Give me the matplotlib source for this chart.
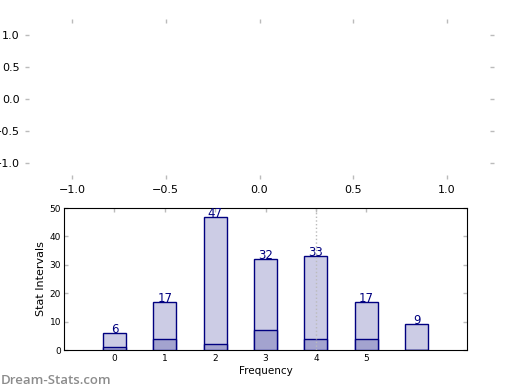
import matplotlib
matplotlib.use('Agg')
import matplotlib.pyplot as plt

# bar data
positions = [0, 1, 2, 3, 4, 5, 6]
totals = [6, 17, 47, 32, 33, 17, 9]
lower = [1, 4, 2, 7, 4, 4, 0]
xtick_labels = ['0', '1', '2', '3', '4', '5']
marker_x = 4

navy = '#000080'
tick_gray = '#bbbbbb'

fig = plt.figure(figsize=(5.2, 3.9), dpi=100)

# +-----------------------+
# | empty top placeholder |
# +-----------------------+
ax_top = fig.add_axes([25 / 520, 1 - 179 / 390, 469 / 520, 160 / 390])
ax_top.set_xlim(-1.25, 1.25)
ax_top.set_ylim(-1.25, 1.25)
ax_top.set_xticks([-1.0, -0.5, 0.0, 0.5, 1.0])
ax_top.set_yticks([-1.0, -0.5, 0.0, 0.5, 1.0])
for s in ax_top.spines.values():
    s.set_visible(False)
ax_top.tick_params(direction='in', top=True, right=True, length=3, width=1,
                   color=tick_gray, labelsize=8, pad=4)

# +-----------+
# | bar chart |
# +-----------+
ax = fig.add_axes([64 / 520, 1 - 350 / 390, 403 / 520, 142 / 390])
ax.bar(positions, totals, width=0.46, color='#ccccE5', edgecolor=navy, linewidth=1, zorder=2)
ax.bar(positions, lower, width=0.46, color='#a3a3cf', edgecolor=navy, linewidth=1, zorder=3)
for x, v in zip(positions, totals):
    ax.annotate(str(v), (x, v), xytext=(0, 0), textcoords='offset points',
                ha='center', va='baseline', color=navy, fontsize=8.5, zorder=4)
ax.axvline(marker_x, color='#bbbbbb', linestyle=':', linewidth=1, zorder=5)

ax.set_xlim(-1, 7)
ax.set_ylim(0, 50)
ax.set_xticks(positions[:6])
ax.set_xticklabels(xtick_labels)
ax.set_yticks([0, 10, 20, 30, 40, 50])
ax.tick_params(direction='in', top=True, right=True, length=3, width=1,
               color=tick_gray, labelsize=6.5)
ax.tick_params(axis='x', pad=3)
ax.tick_params(axis='y', pad=2)
ax.set_xlabel('Frequency', fontsize=7.5, labelpad=2)
ax.set_ylabel('Stat Intervals', fontsize=8, labelpad=3)

fig.text(1 / 520, (390 - 384) / 390, 'Dream-Stats.com', color='#8c8c8c', fontsize=9.5,
         family=['Open Sans', 'DejaVu Sans'], fontweight='semibold', ha='left', va='baseline')

fig.savefig('out.png', dpi=100)
